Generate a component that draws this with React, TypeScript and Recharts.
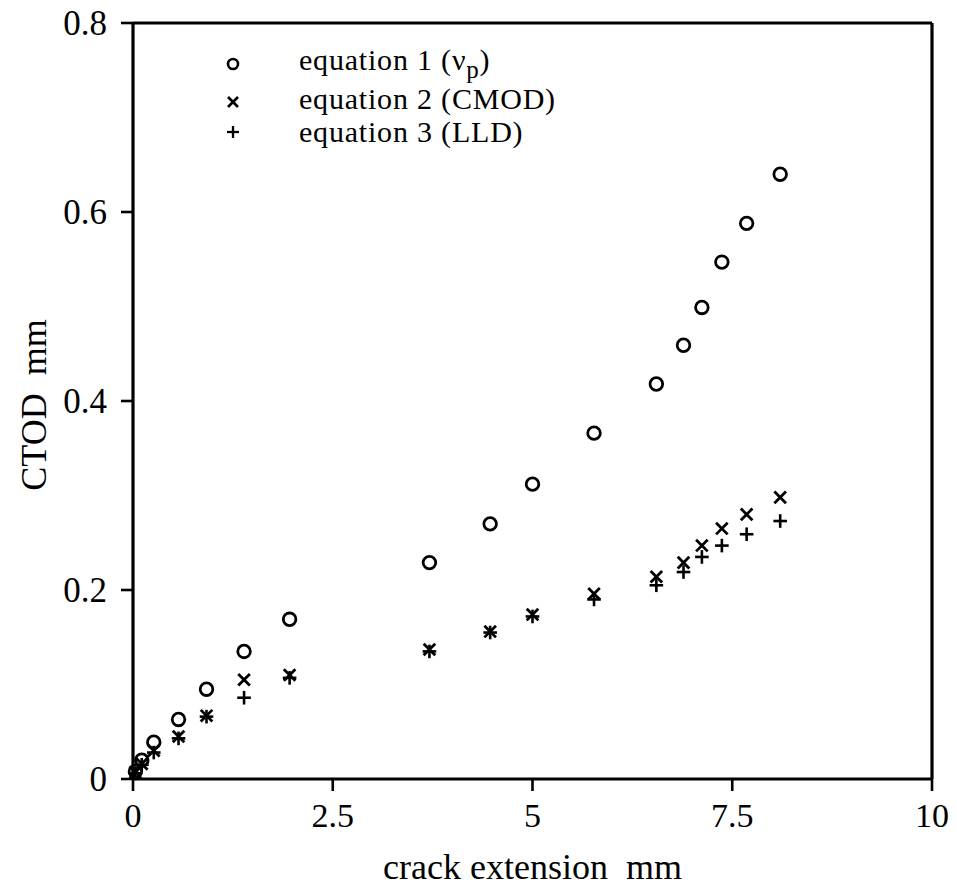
import React from 'react';
import { ScatterChart, Scatter, XAxis, YAxis, ReferenceLine } from 'recharts';

const crackExtension = [0.03, 0.11, 0.26, 0.57, 0.92, 1.39, 1.96, 3.71, 4.47, 5.0, 5.77, 6.55, 6.89, 7.12, 7.37, 7.68, 8.1];
const ctodEq1 = [0.008, 0.02, 0.039, 0.063, 0.095, 0.135, 0.169, 0.229, 0.27, 0.312, 0.366, 0.418, 0.459, 0.499, 0.547, 0.588, 0.64];
const ctodEq2 = [0.007, 0.016, 0.03, 0.045, 0.067, 0.105, 0.11, 0.137, 0.156, 0.174, 0.196, 0.214, 0.229, 0.247, 0.265, 0.28, 0.298];
const ctodEq3 = [0.006, 0.015, 0.028, 0.043, 0.066, 0.086, 0.107, 0.135, 0.155, 0.172, 0.19, 0.205, 0.219, 0.235, 0.247, 0.259, 0.273];

const xTicks = [0, 2.5, 5, 7.5, 10];
const yTicks = [0, 0.2, 0.4, 0.6, 0.8];

const seriesNames = ['equation 1 (ν', 'equation 2 (CMOD)', 'equation 3 (LLD)'];

const data1 = crackExtension.map((x, i) => ({ x, y: ctodEq1[i] }));
const data2 = crackExtension.map((x, i) => ({ x, y: ctodEq2[i] }));
const data3 = crackExtension.map((x, i) => ({ x, y: ctodEq3[i] }));

const FONT = '"Liberation Serif", "Times New Roman", serif';

const CircleShape = (p: any) => (
  <circle cx={p.cx} cy={p.cy} r={6.3} fill="none" stroke="#000" strokeWidth={2.8} />
);
const CrossShape = (p: any) => {
  const s = 5.8;
  return (
    <g stroke="#000" strokeWidth={2.8}>
      <line x1={p.cx - s} y1={p.cy - s} x2={p.cx + s} y2={p.cy + s} />
      <line x1={p.cx - s} y1={p.cy + s} x2={p.cx + s} y2={p.cy - s} />
    </g>
  );
};
const PlusShape = (p: any) => {
  const s = 6.8;
  return (
    <g stroke="#000" strokeWidth={2.6}>
      <line x1={p.cx - s} y1={p.cy} x2={p.cx + s} y2={p.cy} />
      <line x1={p.cx} y1={p.cy - s} x2={p.cx} y2={p.cy + s} />
    </g>
  );
};

const LegendBox = () => {
  const rowStyle: React.CSSProperties = { display: 'flex', alignItems: 'center', height: 35, whiteSpace: 'pre' };
  const iconBox: React.CSSProperties = { width: 74, display: 'flex', justifyContent: 'flex-start' };
  return (
    <div style={{ position: 'absolute', left: 225, top: 46, fontFamily: FONT, fontSize: 30, letterSpacing: 0.8, color: '#000', lineHeight: 1 }}>
      <div style={rowStyle}>
        <div style={iconBox}><svg width={16} height={16}><circle cx={8} cy={8} r={5} fill="none" stroke="#000" strokeWidth={2.6} /></svg></div>
        <span>{seriesNames[0]}<sub style={{ fontSize: 25, verticalAlign: '-0.3em' }}>p</sub>)</span>
      </div>
      <div style={rowStyle}>
        <div style={iconBox}><svg width={16} height={18} style={{ marginTop: 6 }}><g stroke="#000" strokeWidth={2.6}><line x1={3} y1={4} x2={13} y2={14} /><line x1={3} y1={14} x2={13} y2={4} /></g></svg></div>
        <span>{seriesNames[1]}</span>
      </div>
      <div style={{ ...rowStyle, height: 32 }}>
        <div style={iconBox}><svg width={16} height={16}><g stroke="#000" strokeWidth={2.3}><line x1={2} y1={8} x2={14} y2={8} /><line x1={8} y1={2} x2={8} y2={14} /></g></svg></div>
        <span>{seriesNames[2]}</span>
      </div>
    </div>
  );
};

const YLabel = (props: any) => {
  const vb = props.viewBox;
  const cx = vb.x + 46;
  const cy = vb.y + vb.height / 2 + 4;
  return (
    <text x={cx} y={cy} transform={`rotate(-90 ${cx} ${cy})`} textAnchor="middle"
      style={{ whiteSpace: 'pre' }} fontFamily={FONT} fontSize={36} fill="#000">CTOD  mm</text>
  );
};
const XLabel = (props: any) => {
  const vb = props.viewBox;
  const cx = vb.x + vb.width / 2;
  return (
    <text x={cx} y={vb.y + 100} textAnchor="middle"
      style={{ whiteSpace: 'pre' }} fontFamily={FONT} fontSize={36} fill="#000">crack extension  mm</text>
  );
};

export default function App() {
  return (
    <div style={{ position: 'absolute', left: 0, top: 0, width: 957, height: 888, background: '#fff' }}>
      <ScatterChart width={957} height={888} margin={{ top: 23, right: 25, bottom: 0, left: 0 }}>
        <XAxis type="number" dataKey="x" domain={[0, 10]} ticks={xTicks} height={109}
          axisLine={{ stroke: '#000', strokeWidth: 3.2 }} tickLine={{ stroke: '#000', strokeWidth: 2.6 }}
          tickSize={12} tickMargin={12}
          tick={{ fill: '#000', fontSize: 34, fontFamily: FONT }}
          label={<XLabel />} />
        <YAxis type="number" dataKey="y" domain={[0, 0.8]} ticks={yTicks} width={133}
          axisLine={{ stroke: '#000', strokeWidth: 3.2 }} tickLine={{ stroke: '#000', strokeWidth: 2.6 }}
          tickSize={12} tickMargin={14}
          tick={{ fill: '#000', fontSize: 35, fontFamily: FONT }}
          tickFormatter={(v: number) => (v === 0 ? '0' : String(v))}
          label={<YLabel />} />
        <ReferenceLine y={0.8} stroke="#000" strokeWidth={3.2} />
        <ReferenceLine x={10} stroke="#000" strokeWidth={3.2} />
        <Scatter name={seriesNames[0]} data={data1} shape={<CircleShape />} isAnimationActive={false} />
        <Scatter name={seriesNames[1]} data={data2} shape={<CrossShape />} isAnimationActive={false} />
        <Scatter name={seriesNames[2]} data={data3} shape={<PlusShape />} isAnimationActive={false} />
      </ScatterChart>
      <LegendBox />
    </div>
  );
}
